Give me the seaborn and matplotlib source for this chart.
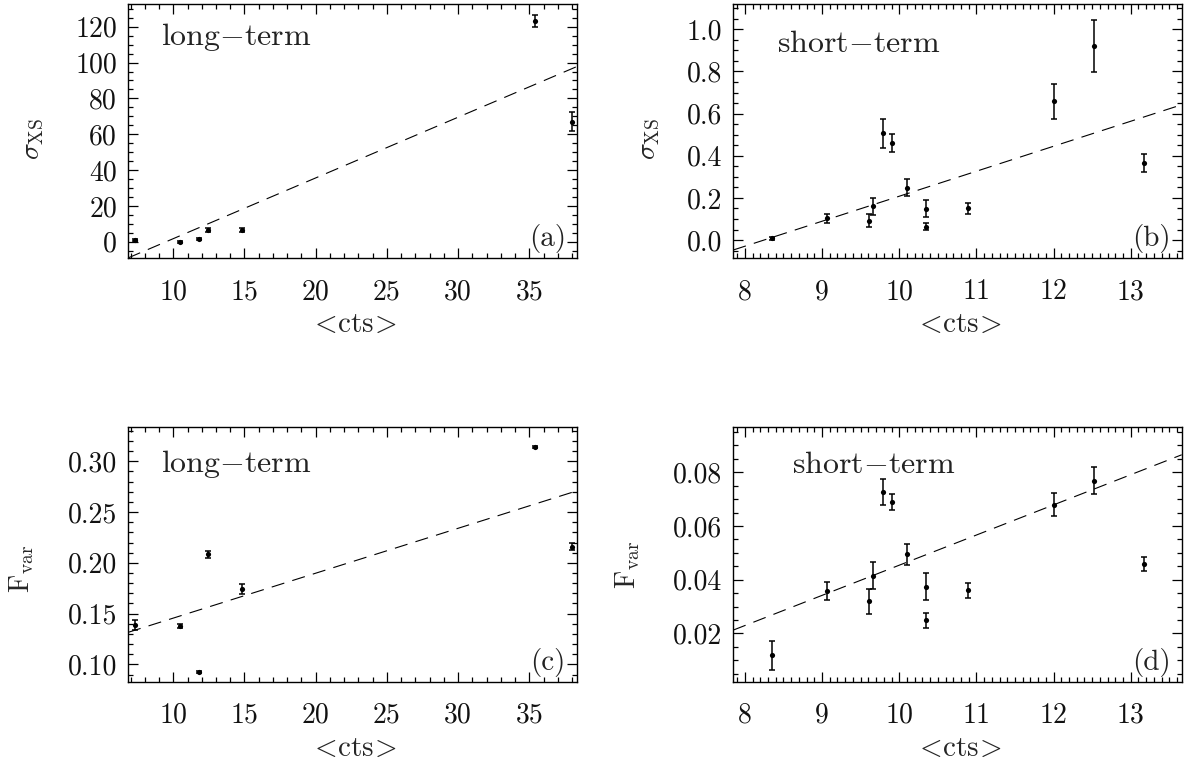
import numpy as np
import matplotlib
matplotlib.use("Agg")
import matplotlib.pyplot as plt
from matplotlib.ticker import MultipleLocator, FixedLocator, FixedFormatter
import seaborn as sns

# ---------------- data ----------------
x_long = [7.3, 10.47, 11.8, 12.42, 14.85, 35.4, 38.0]
sigma_long = [1.0, 0.0, 1.3, 6.5, 6.5, 123.2, 66.9]
sigma_long_err = [0.6, 0.5, 0.6, 1.3, 1.3, 3.1, 5.3]
fvar_long = [0.1387, 0.1377, 0.0921, 0.2083, 0.1741, 0.3142, 0.2158]
fvar_long_err = [0.0049, 0.002, 0.001, 0.0033, 0.005, 0.001, 0.0033]

x_short = [8.35, 9.07, 9.61, 9.66, 9.79, 9.91, 10.10, 10.35, 10.35, 10.885, 12.0, 12.53, 13.17]
sigma_short = [0.008, 0.103, 0.092, 0.161, 0.506, 0.462, 0.248, 0.149, 0.063, 0.152, 0.658, 0.922, 0.365]
sigma_short_err = [0.006, 0.022, 0.03, 0.04, 0.067, 0.043, 0.04, 0.041, 0.016, 0.026, 0.082, 0.123, 0.043]
fvar_short = [0.0118, 0.0358, 0.032, 0.0415, 0.0728, 0.0689, 0.0494, 0.0374, 0.0249, 0.036, 0.068, 0.0769, 0.0459]
fvar_short_err = [0.0055, 0.0035, 0.0046, 0.0051, 0.0048, 0.0031, 0.0039, 0.0051, 0.0028, 0.0029, 0.0042, 0.0051, 0.0027]

# linear fits (intercept, slope)
fit_sigma_long = (-32.2, 3.39)
fit_fvar_long = (0.1014, 0.00442)
fit_sigma_short = (-0.978, 0.1186)
fit_fvar_short = (-0.0670, 0.01124)

# ticks
xticks_long = [10, 15, 20, 25, 30, 35]
xticklabels_long = ["10", "15", "20", "25", "30", "35"]
xticks_short = [8, 9, 10, 11, 12, 13]
xticklabels_short = ["8", "9", "10", "11", "12", "13"]
yticks_a = [0, 20, 40, 60, 80, 100, 120]
yticklabels_a = ["0", "20", "40", "60", "80", "100", "120"]
yticks_b = [0.0, 0.2, 0.4, 0.6, 0.8, 1.0]
yticklabels_b = ["0.0", "0.2", "0.4", "0.6", "0.8", "1.0"]
yticks_c = [0.10, 0.15, 0.20, 0.25, 0.30]
yticklabels_c = ["0.10", "0.15", "0.20", "0.25", "0.30"]
yticks_d = [0.02, 0.04, 0.06, 0.08]
yticklabels_d = ["0.02", "0.04", "0.06", "0.08"]

# ---------------- style ----------------
sns.set_theme(style="ticks")
plt.rcParams["font.family"] = ["cmr10", "DejaVu Serif"]
plt.rcParams["mathtext.fontset"] = "cm"
plt.rcParams["axes.unicode_minus"] = False
plt.rcParams["lines.scale_dashes"] = False

fig = plt.figure(figsize=(11.87, 7.70), dpi=100)
W, H = 1187.0, 770.0

def axes_px(l, t, r, b):
    return fig.add_axes([l / W, 1 - b / H, (r - l) / W, (b - t) / H])

ax_a = axes_px(128, 4, 577, 258)
ax_b = axes_px(733.3, 4, 1181.7, 258)
ax_c = axes_px(128, 426.7, 577, 681.7)
ax_d = axes_px(733.3, 426.7, 1181.7, 681.7)

panels = [
    (ax_a, x_long, sigma_long, sigma_long_err, fit_sigma_long, (6.82, 38.35), (-9.1, 132.7),
     xticks_long, xticklabels_long, 1, yticks_a, yticklabels_a, 5,
     r"$\sigma_{\rm XS}$", r"$\mathrm{long{-}term}$", "(a)", (0.073, 0.839), (-0.2116, 0.4685)),
    (ax_b, x_short, sigma_short, sigma_short_err, fit_sigma_short, (7.85, 13.66), (-0.085, 1.12),
     xticks_short, xticklabels_short, 0.1, yticks_b, yticklabels_b, 0.05,
     r"$\sigma_{\rm XS}$", r"$\mathrm{short{-}term}$", "(b)", (0.097, 0.812), (-0.188, 0.4685)),
    (ax_c, x_long, fvar_long, fvar_long_err, fit_fvar_long, (6.82, 38.35), (0.083, 0.334),
     xticks_long, xticklabels_long, 1, yticks_c, yticklabels_c, 0.01,
     r"$\mathrm{F_{var}}$", r"$\mathrm{long{-}term}$", "(c)", (0.073, 0.824), (-0.237, 0.442)),
    (ax_d, x_short, fvar_short, fvar_short_err, fit_fvar_short, (7.85, 13.66), (0.002, 0.097),
     xticks_short, xticklabels_short, 0.1, yticks_d, yticklabels_d, 0.005,
     r"$\mathrm{F_{var}}$", r"$\mathrm{short{-}term}$", "(d)", (0.130, 0.817), (-0.235, 0.458)),
]

for (ax, xs, ys, es, fit, xlim, ylim, xt, xtl, xminor, yt, ytl, yminor,
     ylab, title, letter, tpos, ylpos) in panels:
    ax.set_facecolor("white")
    # fit line
    xl = np.array(xlim)
    sns.lineplot(x=xl, y=fit[0] + fit[1] * xl, ax=ax, color="black", lw=0.8,
                 dashes=False, linestyle=(0, (9.5, 6.0)))
    # error bars
    ax.errorbar(xs, ys, yerr=es, fmt="none", ecolor="black", elinewidth=1.1,
                capsize=2.0, capthick=1.1)
    # points
    sns.scatterplot(x=xs, y=ys, ax=ax, color="black", s=14, linewidth=0, zorder=5)
    ax.set_xlim(*xlim)
    ax.set_ylim(*ylim)
    ax.xaxis.set_major_locator(FixedLocator(xt))
    ax.xaxis.set_major_formatter(FixedFormatter(xtl))
    ax.xaxis.set_minor_locator(MultipleLocator(xminor))
    ax.yaxis.set_major_locator(FixedLocator(yt))
    ax.yaxis.set_major_formatter(FixedFormatter(ytl))
    ax.yaxis.set_minor_locator(MultipleLocator(yminor))
    ax.tick_params(which="both", direction="in", top=True, right=True,
                   color="black", width=0.9)
    ax.tick_params(which="major", length=7)
    ax.tick_params(which="minor", length=3.5)
    ax.tick_params(axis="x", which="major", pad=15, labelsize=20, labelcolor="#111111")
    ax.tick_params(axis="y", which="major", pad=8, labelsize=20, labelcolor="#111111")
    for sp in ax.spines.values():
        sp.set_visible(True)
        sp.set_color("black")
        sp.set_linewidth(1.0)
    ax.set_xlabel(r"$<\!\mathrm{cts}\!>$", fontsize=21)
    ax.xaxis.label.set_va("center")
    ax.xaxis.set_label_coords(0.5, -0.262)
    ax.set_ylabel(ylab, fontsize=20)
    ax.yaxis.label.set_va("center")
    ax.yaxis.set_label_coords(*ylpos)
    ax.text(tpos[0], tpos[1], title, transform=ax.transAxes, fontsize=23,
            ha="left", va="baseline", color="#222222")
    ax.text(0.975, 0.02, letter, transform=ax.transAxes, fontsize=21,
            ha="right", va="bottom", color="#222222")

fig.savefig("out.png", dpi=100, facecolor="white")
